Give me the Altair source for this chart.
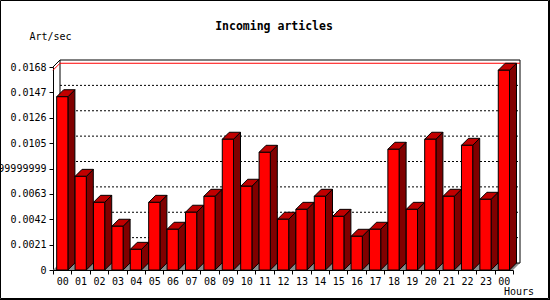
import json
import altair as alt
import pandas as pd

# ---------------- data ----------------
hours = ["00", "01", "02", "03", "04", "05", "06", "07", "08", "09", "10", "11",
         "12", "13", "14", "15", "16", "17", "18", "19", "20", "21", "22", "23", "00"]
rates = [0.01434, 0.00775, 0.00560, 0.00362, 0.00171, 0.00560, 0.00337, 0.00478,
         0.00610, 0.01082, 0.00693, 0.00974, 0.00420, 0.00502, 0.00610, 0.00444,
         0.00279, 0.00337, 0.00999, 0.00502, 0.01082, 0.00610, 0.01032, 0.00585,
         0.01653]
ytick_values = [0, 0.0021, 0.0042, 0.0063, 0.0084, 0.0105, 0.0126, 0.0147, 0.0168]
ytick_labels = ["0", "0.0021", "0.0042", "0.0063", "0.0083999999999", "0.0105",
                "0.0126", "0.0147", "0.0168"]
title_text = "Incoming articles"
y_title = "Art/sec"
x_title = "Hours"

# ---------------- geometry / style ----------------
W, H = 460, 203
N = len(hours)
YMAX = ytick_values[-1]
DEPTH = 7                      # 3-D depth in pixels
dx = DEPTH * N / W             # depth in x data units
dy = DEPTH * YMAX / H          # depth in y data units
BAR_L, BAR_R = 0.2, 0.81       # front face position inside each band
FONT = "DejaVu Sans Mono"
FRONT, SIDE, TOP, FLOOR = "#ff0000", "#800000", "#c00000", "#8c8c8c"

xscale = alt.Scale(domain=[0, N], nice=False, zero=False)
yscale = alt.Scale(domain=[0, YMAX], nice=False, zero=False)

xaxis = alt.Axis(values=list(range(N + 1)),
                 labelExpr=json.dumps(hours) + "[datum.value] || ''",
                 labelOffset=W / N / 2, labelFlush=False, labelOverlap=False,
                 tickSize=4, labelPadding=2, grid=False, title=None,
                 domainColor="black", tickColor="black", labelColor="black",
                 labelFont=FONT, labelFontSize=10, labelBaseline="top")
yaxis = alt.Axis(values=ytick_values,
                 labelExpr=json.dumps(ytick_labels) + "[round(datum.value / %r)]" % ytick_values[1],
                 tickSize=4, labelPadding=3, grid=False, title=None,
                 labelOverlap=False, labelFlush=False,
                 domainColor="black", tickColor="black", labelColor="black",
                 labelFont=FONT, labelFontSize=10)


def X(f):
    return alt.X(f, type="quantitative", scale=xscale, axis=xaxis)


def Y(f):
    return alt.Y(f, type="quantitative", scale=yscale, axis=yaxis)


# ---------------- tables built from the arrays ----------------
front = pd.DataFrame({"bar": range(N),
                      "xl": [i + BAR_L for i in range(N)],
                      "xr": [i + BAR_R for i in range(N)],
                      "v": rates,
                      "z": [0.0] * N})

side_rows, top_rows = [], []
for i, v in enumerate(rates):
    side_rows.append({"bar": i, "x": i + BAR_R, "t": v, "b": 0.0})
    side_rows.append({"bar": i, "x": i + BAR_R + dx, "t": v + dy, "b": dy})
    top_rows.append({"bar": i, "y": v, "xl": i + BAR_L, "xr": i + BAR_R})
    top_rows.append({"bar": i, "y": v + dy, "xl": i + BAR_L + dx, "xr": i + BAR_R + dx})
side = pd.DataFrame(side_rows)
top = pd.DataFrame(top_rows)

floor = pd.DataFrame({"bar": [0, 0], "y": [0.0, dy], "xl": [0.0, dx], "xr": [float(N), N + dx]})
back = pd.DataFrame({"xl": [dx], "xr": [N + dx], "yb": [dy], "yt": [YMAX + dy]})
grid = pd.DataFrame({"xl": [dx] * (len(ytick_values) - 2),
                     "xr": [N + dx] * (len(ytick_values) - 2),
                     "y": [v + dy for v in ytick_values[1:-1]]})
vmax = max(rates)
maxline = pd.DataFrame({"xl": [dx], "xr": [N + dx], "y": [vmax + dy]})
diag = pd.DataFrame({"x": [0.0, 0.0], "x2": [dx, dx], "y": [YMAX, vmax],
                     "y2": [YMAX + dy, vmax + dy], "c": ["black", "red"]})
one = pd.DataFrame({"k": [0]})

# ---------------- layers ----------------
floor_l = alt.Chart(floor).mark_area(orient="horizontal", fill=FLOOR, opacity=1).encode(
    y=Y("y"), x=X("xl"), x2="xr", detail="bar:N")
back_l = alt.Chart(back).mark_rect(fill="white", fillOpacity=0, stroke="black",
                                   strokeWidth=1, opacity=1).encode(
    x=X("xl"), x2="xr", y=Y("yb"), y2="yt")
grid_l = alt.Chart(grid).mark_rule(color="black", strokeWidth=1, strokeDash=[2, 2]).encode(
    x=X("xl"), x2="xr", y=Y("y"))
max_l = alt.Chart(maxline).mark_rule(color="red", strokeWidth=1).encode(
    x=X("xl"), x2="xr", y=Y("y"))
diag_l = alt.Chart(diag).mark_rule(strokeWidth=1).encode(
    x=X("x"), x2="x2", y=Y("y"), y2="y2",
    color=alt.Color("c:N", scale=None, legend=None))
side_l = alt.Chart(side).mark_area(fill=SIDE, stroke="black", strokeWidth=1, opacity=1).encode(
    x=X("x"), y=Y("t"), y2="b", detail="bar:N")
top_l = alt.Chart(top).mark_area(orient="horizontal", fill=TOP, stroke="black",
                                 strokeWidth=1, opacity=1).encode(
    y=Y("y"), x=X("xl"), x2="xr", detail="bar:N")
front_l = alt.Chart(front).mark_rect(fill=FRONT, stroke="black", strokeWidth=1, opacity=1).encode(
    x=X("xl"), x2="xr", y=Y("z"), y2="v")

title_l = alt.Chart(one).mark_text(font=FONT, fontSize=11.5, fontWeight="bold",
                                   color="black", baseline="middle", align="center").encode(
    x=alt.value(221), y=alt.value(-40), text=alt.value(title_text))
ytitle_l = alt.Chart(one).mark_text(font=FONT, fontSize=10, color="black",
                                    baseline="middle", align="center").encode(
    x=alt.value(-2.5), y=alt.value(-30), text=alt.value(y_title))
xtitle_l = alt.Chart(one).mark_text(font=FONT, fontSize=10, color="black",
                                    baseline="middle", align="center").encode(
    x=alt.value(466), y=alt.value(225), text=alt.value(x_title))

frame_l = alt.Chart(one).mark_rect(fillOpacity=0, stroke="black", strokeWidth=1).encode(
    x=alt.value(-52.5), x2=alt.value(495.5), y=alt.value(-66.5), y2=alt.value(231.5))
frame_r = alt.Chart(one).mark_rule(color="black", strokeWidth=1).encode(
    x=alt.value(496.5), y=alt.value(-67), y2=alt.value(233))
frame_b = alt.Chart(one).mark_rule(color="black", strokeWidth=1).encode(
    x=alt.value(-53), x2=alt.value(497), y=alt.value(232.5))

chart = alt.layer(
    floor_l, back_l, grid_l, max_l, diag_l, side_l, top_l, front_l,
    title_l, ytitle_l, xtitle_l, frame_l, frame_r, frame_b
).properties(
    width=W, height=H,
    padding={"left": 53, "top": 67, "right": 37, "bottom": 30},
    autosize=alt.AutoSizeParams(type="none"),
    background="white",
).configure_view(stroke=None)

chart.save("out.html", embed_options={"renderer": "svg", "actions": False})
